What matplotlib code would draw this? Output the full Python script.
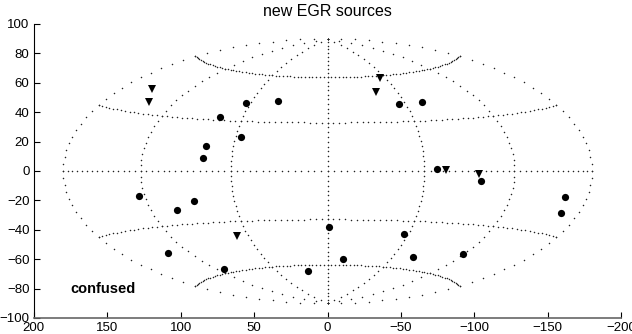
import numpy as np
import matplotlib
matplotlib.use("Agg")
import matplotlib.pyplot as plt

plt.rcParams["font.family"] = ["Liberation Sans", "DejaVu Sans"]

# fuentes (l, b), ya proyectadas
circle_x = [34, 55.3, 73.5, 58.7, 82.8, 84.8, 128, 102.2, 91, 108.8, 70.3, 13.6,
            -1.1, -10.4, -52.4, -58.5, -92.5, -74.8, -104.3, -161.4, -158.7, -48.5, -64.2]
circle_y = [47.6, 46, 36.7, 23.3, 17.2, 8.6, -17.2, -26.3, -20.2, -55.8, -66.4, -68.2,
            -37.9, -59.6, -43.1, -58.7, -56.5, 1.4, -6.8, -17.9, -28.3, 45.4, 47.2]
tri_x = [119.7, 121.3, -35.8, -33.1, -81, -103.4, 61.7]
tri_y = [55.6, 47.2, 63.5, 53.5, 0.7, -2, -44.4]

meridians = [-180, -120, -60, 0, 60, 120, 180]
parallels = [-60, -30, 0, 30, 60]
xticks = [200, 150, 100, 50, 0, -50, -100, -150, -200]
yticks = [100, 80, 60, 40, 20, 0, -20, -40, -60, -80, -100]


def hammer(lon, lat):
    lam, phi = np.radians(lon), np.radians(lat)
    d = np.sqrt(1 + np.cos(phi) * np.cos(lam / 2))
    x = 2 * np.sqrt(2) * np.cos(phi) * np.sin(lam / 2) / d
    y = np.sqrt(2) * np.sin(phi) / d
    k = 180 / (2 * np.sqrt(2))
    return k * x, k * y


fig = plt.figure(figsize=(6.32, 3.34), dpi=100)
ax = fig.add_axes([33.7 / 632, 1 - 318 / 334, 587.6 / 632, 294 / 334])

# Reticula de puntos
for lon in meridians:
    lat = np.arange(-90, 90.1, 3)
    x, y = hammer(lon * np.ones_like(lat), lat)
    ax.plot(x, y, ls="none", marker="o", ms=1.1, mew=0, color="#222222")
for b in parallels:
    lon = np.arange(-180, 180.1, 4)
    x, y = hammer(lon, b * np.ones_like(lon))
    ax.plot(x, y, ls="none", marker="o", ms=1.1, mew=0, color="#222222")

ax.plot(circle_x, circle_y, "ko", ms=5.2, mew=0)
ax.plot(tri_x, tri_y, "kv", ms=6, mew=0)

ax.text(175, -80, "confused", fontsize=10.5, fontweight="bold", ha="left", va="center")

ax.set_xlim(200, -200)
ax.set_ylim(-100, 100)
ax.set_xticks(xticks)
ax.set_yticks(yticks)
ax.tick_params(direction="in", length=4.5, width=0.8, labelsize=9.5, pad=3)
ax.spines["top"].set_visible(False)
ax.spines["right"].set_visible(False)
ax.spines["bottom"].set_color("#666666")
ax.spines["bottom"].set_linewidth(1.2)
ax.spines["left"].set_linewidth(0.8)
ax.set_title("new EGR sources", fontsize=11.5, pad=6)

plt.savefig("out.png", dpi=100)
plt.close()
